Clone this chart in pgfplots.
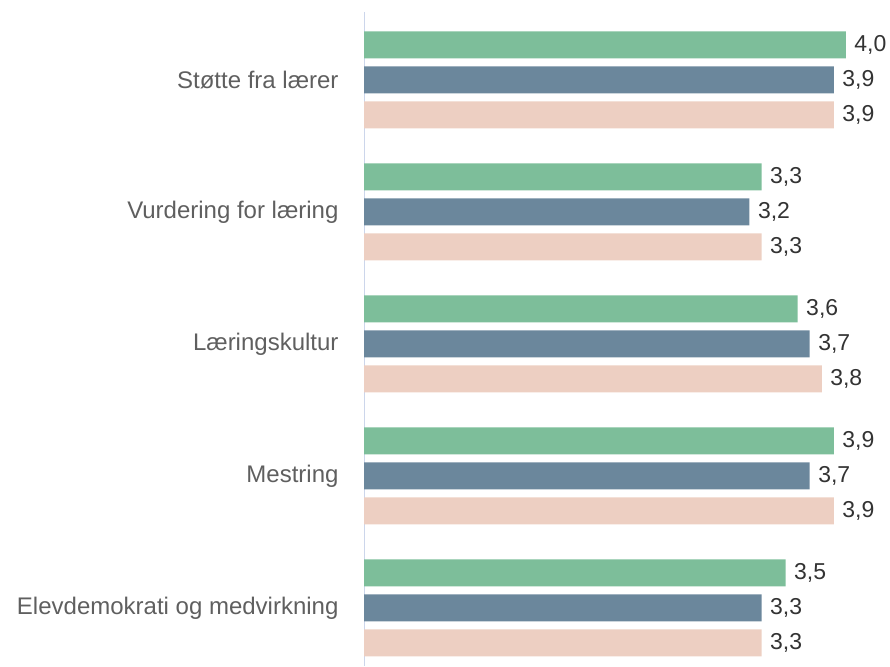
\documentclass[border=0pt]{standalone}
\usepackage{pgfplots}
\pgfplotsset{compat=1.18}
\usepackage{fontspec}
\setmainfont{Liberation Sans}
\definecolor{cgreen}{HTML}{7DBE9A}
\definecolor{cblue}{HTML}{6B879C}
\definecolor{cpeach}{HTML}{EDCFC2}
\definecolor{caxis}{HTML}{CCD6EB}
\definecolor{clabel}{HTML}{5F5F5F}
\definecolor{cval}{HTML}{333333}
\begin{document}
\begin{tikzpicture}
\useasboundingbox (0,0) rectangle (890pt,666pt);
\begin{axis}[
  at={(364pt,0pt)}, anchor=south west,
  scale only axis, width=518pt, height=654pt,
  xmin=0, xmax=4.3,
  ymin=-0.515, ymax=4.44,
  y dir=reverse,
  xbar, bar width=27pt, bar shift=0pt,
  axis x line=none,
  axis y line*=left,
  y axis line style={caxis, line width=1pt, -},
  ytick={0,1,2,3,4},
  yticklabels={St\o tte fra l\ae rer, Vurdering for l\ae ring, L\ae ringskultur, Mestring, Elevdemokrati og medvirkning},
  major tick length=0pt,
  yticklabel style={font=\fontsize{24}{28}\selectfont, text=clabel, xshift=-22pt},
  nodes near coords,
  nodes near coords style={font=\fontsize{23}{27}\selectfont, text=cval, anchor=west, xshift=5pt,
    /pgf/number format/.cd, fixed, fixed zerofill, precision=1, use comma, assume math mode=true},
  clip=false,
]
\addplot[fill=cgreen, draw=none] coordinates {(4.0,-0.265) (3.3,0.735) (3.6,1.735) (3.9,2.735) (3.5,3.735)};
\addplot[fill=cblue, draw=none] coordinates {(3.9,0) (3.2,1) (3.7,2) (3.7,3) (3.3,4)};
\addplot[fill=cpeach, draw=none] coordinates {(3.9,0.265) (3.3,1.265) (3.8,2.265) (3.9,3.265) (3.3,4.265)};
\end{axis}
\end{tikzpicture}
\end{document}
